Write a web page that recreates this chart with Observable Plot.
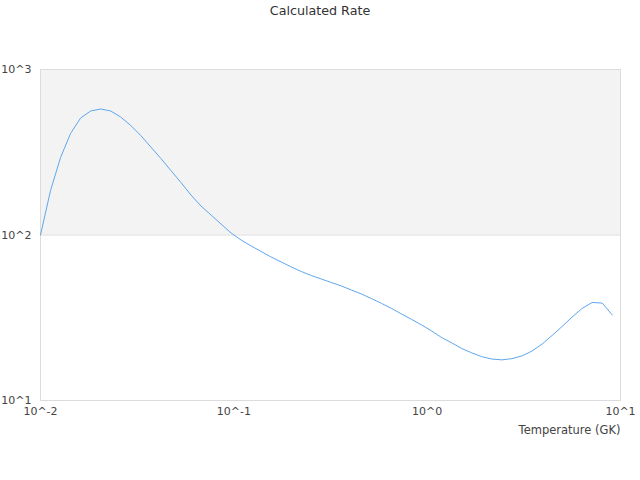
<!DOCTYPE html>
<html><head><meta charset="utf-8">
<script src="https://cdn.jsdelivr.net/npm/d3@7"></script>
<script src="https://cdn.jsdelivr.net/npm/@observablehq/plot@0.6"></script>
<style>
body{margin:0;background:#fff;font-family:"DejaVu Sans",sans-serif;}
#title{width:640px;height:22px;line-height:22px;text-align:center;font-size:12.7px;color:#333;}
</style></head><body>
<div id="title">Calculated Rate</div>
<div id="chart"></div>
<script>
const temperature = [0.0100,0.01127,0.01270,0.01431,0.01612,0.01817,0.02048,0.02307,0.02600,0.02930,
  0.03302,0.03721,0.04194,0.04725,0.05325,0.06001,0.06762,0.07621,0.08586,0.09676,
  0.1090,0.1229,0.1385,0.1560,0.1758,0.1982,0.2233,0.2517,0.2836,0.3196,
  0.3601,0.4058,0.4573,0.5152,0.5806,0.6543,0.7373,0.8310,0.9363,1.055,
  1.189,1.340,1.510,1.701,1.917,2.161,2.435,2.744,3.092,3.484,
  3.926,4.424,4.986,5.618,6.331,7.135,8.040,9.062];
const rate = [100,185.7,294,410.6,509,561.4,577.2,561.4,516.4,458.7,
  399.1,340.1,289.9,245.3,207.6,174.5,149.7,132.1,116.5,102.8,
  93.3,85.8,79.5,73.6,68.7,64.1,60.2,56.9,54.2,51.6,
  49.2,46.5,44.0,41.3,38.6,36.0,33.3,30.9,28.6,26.3,
  24.0,22.3,20.6,19.4,18.4,17.8,17.6,17.9,18.6,19.9,
  21.9,24.7,28.0,31.9,36.0,39.1,38.8,32.9];
const xTicks = [0.01, 0.1, 1, 10];
const yTicks = [10, 100, 1000];
const bandY = [100, 1000];
const xLabel = "Temperature (GK)";

const points = temperature.map((t, i) => ({t, r: rate[i]}));
const fmt = d => "10^" + Math.round(Math.log10(d));

const chart = Plot.plot({
  width: 640,
  height: 458,
  marginTop: 47,
  marginLeft: 40,
  marginRight: 20,
  marginBottom: 80,
  style: {fontFamily: "DejaVu Sans, sans-serif", fontSize: "11px", color: "#444", background: "#fff"},
  x: {type: "log", domain: [0.01, 10]},
  y: {type: "log", domain: [10, 1000]},
  marks: [
    Plot.rect([{y1: bandY[0], y2: bandY[1]}], {x1: 0.01, x2: 10, y1: "y1", y2: "y2", fill: "#f3f3f3"}),
    Plot.ruleY([100], {stroke: "#dcdcdc"}),
    Plot.frame({stroke: "#dcdcdc"}),
    Plot.axisX(xTicks, {tickSize: 0, tickPadding: 7, tickFormat: fmt, label: null, fill: "#444"}),
    Plot.axisY(yTicks, {tickSize: 0, tickPadding: 9, tickFormat: fmt, label: null, fill: "#444"}),
    Plot.line(points, {x: "t", y: "r", stroke: "#5ea7ef", strokeWidth: 1}),
    Plot.text([xLabel], {frameAnchor: "bottom-right", text: d => d, dy: 33, textAnchor: "end", fill: "#444", fontSize: 11.5})
  ]
});
document.getElementById("chart").appendChild(chart);
</script>
</body></html>
